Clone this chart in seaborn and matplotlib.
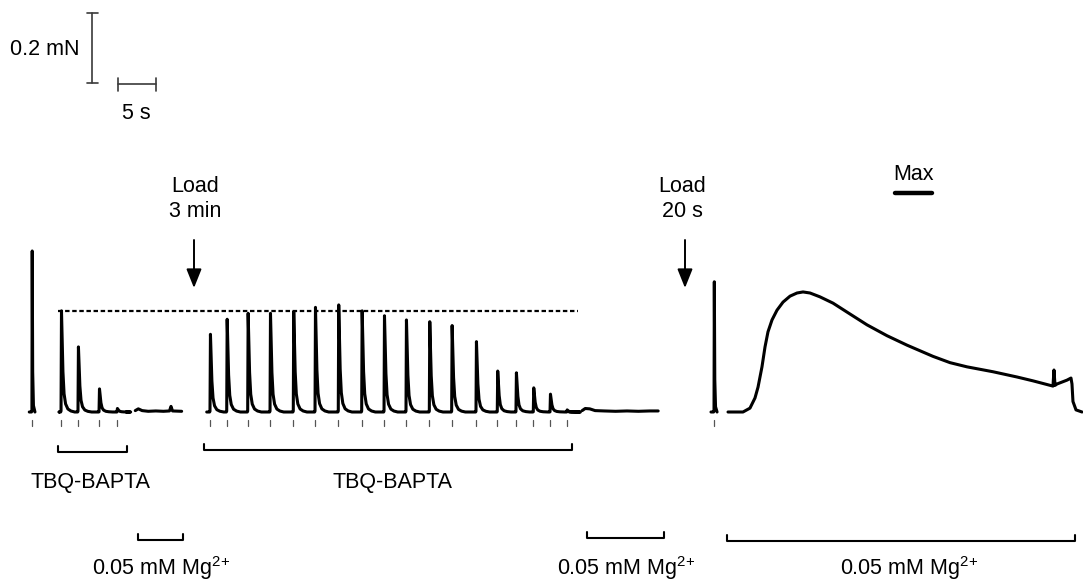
import numpy as np
import pandas as pd
import matplotlib
matplotlib.use("Agg")
import matplotlib.pyplot as plt
import seaborn as sns

# ---------------- data (time in s, force in mN) ----------------
first_twitch_t = [4.2]
first_twitch_amp = [0.46]

group1_t = [8.03, 10.26, 13.03, 15.39]
group1_amp = [0.289, 0.186, 0.066, 0.010]

group2_t = [27.63, 29.83, 32.59, 35.53, 38.59, 41.45, 44.51, 47.59, 50.53,
            53.42, 56.49, 59.43, 62.63, 65.43, 67.89, 70.17, 72.37, 74.57]
group2_amp = [0.222, 0.265, 0.282, 0.282, 0.287, 0.299, 0.306, 0.289, 0.275,
              0.263, 0.258, 0.247, 0.201, 0.117, 0.112, 0.069, 0.051, 0.006]

last_twitch_t = [93.95]
last_twitch_amp = [0.372]

# shape of a twitch in TBQ-BAPTA (time from stimulus, fraction of peak)
twitch_dt = [-0.25, -0.05, 0.0, 0.06, 0.15, 0.25, 0.40, 0.60, 0.90, 1.30, 1.80]
twitch_rel = [0.0, 0.0, 0.01, 1.0, 0.72, 0.40, 0.18, 0.08, 0.03, 0.01, 0.0]
# shape of a control twitch (faster relaxation)
fast_dt = [-0.25, -0.05, 0.0, 0.04, 0.10, 0.20, 0.40]
fast_rel = [0.0, 0.0, 0.01, 1.0, 0.25, 0.04, 0.0]

# segment windows (start, end) of the twitch records
first_window = (3.85, 4.6)
group1_window = (7.8, 16.6)
group2_window = (27.2, 74.9)
last_window = (93.55, 94.35)

# Mg2+ only records
mg1_t = [17.8, 18.2, 18.7, 19.5, 20.5, 21.5, 22.3, 22.5, 22.7, 23.9]
mg1_f = [0.004, 0.009, 0.004, 0.002, 0.003, 0.002, 0.003, 0.016, 0.003, 0.002]
mg2_t = [76.6, 77.0, 77.6, 78.3, 79.5, 81.0, 82.5, 84.0, 85.5, 86.6]
mg2_f = [0.004, 0.010, 0.009, 0.004, 0.003, 0.002, 0.003, 0.002, 0.003, 0.003]

# contracture in 0.05 mM Mg2+
contracture_t = [95.79, 97.76, 98.68, 99.34, 99.74, 100.26, 100.66, 101.05, 101.58,
                 102.24, 103.03, 103.95, 104.87, 105.66, 106.58, 107.89, 109.61,
                 111.84, 114.08, 116.71, 119.34, 122.76, 125.0, 127.24, 130.66,
                 133.82, 135.92, 138.55, 138.68, 138.82, 139.08, 140.39, 140.92,
                 141.05, 141.18, 141.58, 142.37]
contracture_f = [0.0, 0.0, 0.011, 0.040, 0.071, 0.129, 0.186, 0.229, 0.263,
                 0.291, 0.314, 0.331, 0.340, 0.343, 0.340, 0.329, 0.311,
                 0.280, 0.249, 0.218, 0.191, 0.159, 0.141, 0.129, 0.115,
                 0.100, 0.089, 0.074, 0.120, 0.076, 0.080, 0.091, 0.097,
                 0.080, 0.030, 0.006, 0.0]

reference_level = 0.289           # dashed line (mN)
reference_span = (7.6, 76.1)

scale_force = 0.2                 # mN
scale_time = 5.0                  # s

MG = r"0.05 mM Mg$^{\mathregular{2{+}}}$"
bracket_labels = ["TBQ-BAPTA", "TBQ-BAPTA", MG, MG, MG]
bracket_start = [7.63, 26.84, 18.16, 77.24, 95.66]
bracket_end = [16.71, 75.26, 24.08, 87.37, 141.45]
bracket_label_x = [11.97, 51.58, 21.18, 82.37, 119.6]

# ---------------- build trace table ----------------
def twitch_segment(times, amps, window, dts, rels):
    ts = [window[0]]
    fs = [0.0]
    for t0, a in zip(times, amps):
        for dt, r in zip(dts, rels):
            ts.append(t0 + dt)
            fs.append(a * r)
    ts.append(window[1])
    fs.append(0.0)
    return ts, fs

parts = {
    "first": twitch_segment(first_twitch_t, first_twitch_amp, first_window, fast_dt, fast_rel),
    "group1": twitch_segment(group1_t, group1_amp, group1_window, twitch_dt, twitch_rel),
    "mg1": (mg1_t, mg1_f),
    "group2": twitch_segment(group2_t, group2_amp, group2_window, twitch_dt, twitch_rel),
    "mg2": (mg2_t, mg2_f),
    "last": twitch_segment(last_twitch_t, last_twitch_amp, last_window, fast_dt, fast_rel),
    "contracture": (contracture_t, contracture_f),
}
trace = pd.concat([pd.DataFrame({"t": ts, "f": fs, "segment": name})
                   for name, (ts, fs) in parts.items()], ignore_index=True)

stimuli = first_twitch_t + group1_t + group2_t + last_twitch_t

# ---------------- drawing ----------------
sns.set_theme(style="white")
plt.rcParams["font.family"] = ["Liberation Sans", "DejaVu Sans"]
plt.rcParams["mathtext.fontset"] = "custom"
plt.rcParams["mathtext.rm"] = "Liberation Sans"
plt.rcParams["mathtext.it"] = "Liberation Sans:italic"
plt.rcParams["text.color"] = "black"

PX_PER_S = 7.6
PX_PER_MN = 350.0
W, H = 1083, 581
BASE_PX = 412

fig = plt.figure(figsize=(W / 100, H / 100), dpi=100)
ax = fig.add_axes([0, 0, 1, 1])
ax.set_xlim(0, W / PX_PER_S)
ax.set_ylim(-(H - BASE_PX) / PX_PER_MN, BASE_PX / PX_PER_MN)
ax.axis("off")

def px_t(px):
    return px / PX_PER_S

def px_f(px):
    return (BASE_PX - px) / PX_PER_MN

sns.lineplot(data=trace, x="t", y="f", units="segment", estimator=None,
             sort=False, color="black", lw=2.2, ax=ax, legend=False)

# dashed reference line
ax.plot(reference_span, [reference_level] * 2, color="black", lw=1.6,
        linestyle=(0, (2.0, 1.2)))

# stimulus marks
tick_lo, tick_hi = px_f(426), px_f(420)
for s in stimuli:
    ax.plot([s, s], [tick_lo, tick_hi], color="#555555", lw=0.9)

# scale bars
sb_color = "#3a3a3a"
vx = px_t(92.3)
vy0 = px_f(83.3)
ax.plot([vx, vx], [vy0, vy0 + scale_force], color=sb_color, lw=1.2)
cap = 5.5 / PX_PER_S
for yy in (vy0, vy0 + scale_force):
    ax.plot([vx - cap, vx + cap], [yy, yy], color=sb_color, lw=1.2)
hx0 = px_t(118)
hy = px_f(84.3)
ax.plot([hx0, hx0 + scale_time], [hy, hy], color=sb_color, lw=1.2)
vcap = 6.5 / PX_PER_MN
for xx in (hx0, hx0 + scale_time):
    ax.plot([xx, xx], [hy - vcap, hy + vcap], color=sb_color, lw=1.2)

FS = 15.5
ax.text(px_t(79), px_f(55), "0.2 mN", ha="right", va="baseline", fontsize=FS)
ax.text(px_t(136), px_f(119), "5 s", ha="center", va="baseline", fontsize=FS)

# load arrows and labels
for cx, ax_x, l2 in [(195, 194, "3 min"), (682, 685, "20 s")]:
    ax.text(px_t(cx), px_f(192), "Load", ha="center", va="baseline", fontsize=FS)
    ax.text(px_t(cx), px_f(217), l2, ha="center", va="baseline", fontsize=FS)
    ax.annotate("", xy=(px_t(ax_x), px_f(288)), xytext=(px_t(ax_x), px_f(240)),
                arrowprops=dict(arrowstyle="-|>,head_length=0.55,head_width=0.22",
                                color="black", lw=1.4, mutation_scale=21,
                                shrinkA=0, shrinkB=0))

# Max bar
ax.text(px_t(913), px_f(180), "Max", ha="center", va="baseline", fontsize=FS)
ax.plot([px_t(895), px_t(932)], [px_f(193)] * 2, color="black", lw=3.2,
        solid_capstyle="round")

# brackets
bracket_y_px = [452, 450, 540, 538, 541]
label_y_px = [488, 488, 575, 575, 575]
up = 6.0 / PX_PER_MN
for lab, s0, s1, lx, by, ly in zip(bracket_labels, bracket_start, bracket_end,
                                   bracket_label_x, bracket_y_px, label_y_px):
    yb = px_f(by)
    ax.plot([s0, s0, s1, s1], [yb + up, yb, yb, yb + up], color="black", lw=1.5)
    ax.text(lx, px_f(ly), lab, ha="center", va="baseline", fontsize=FS)

fig.savefig("out.png", dpi=100)
